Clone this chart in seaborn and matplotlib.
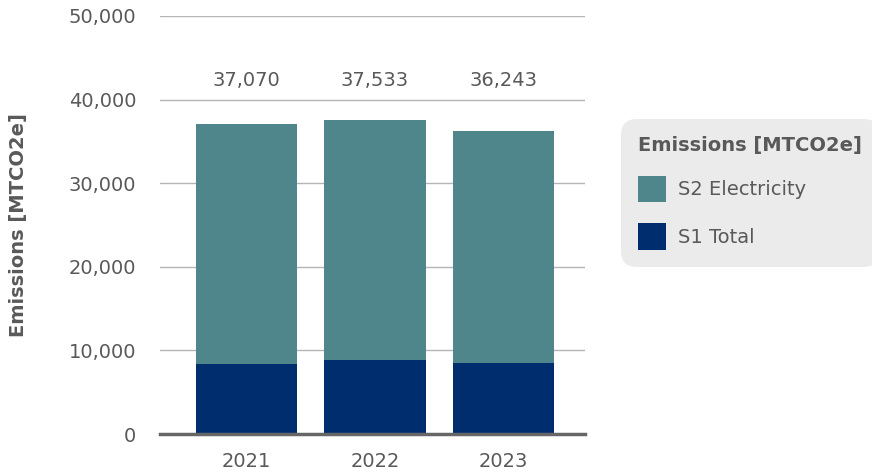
import matplotlib
matplotlib.use("Agg")
import matplotlib.pyplot as plt
import seaborn as sns
import pandas as pd
from matplotlib.patches import Patch

years = ["2021", "2022", "2023"]
s1_total = [8350, 8830, 8470]
s2_electricity = [28720, 28703, 27773]
y_ticks = [0, 10000, 20000, 30000, 40000, 50000]

totals = [a + b for a, b in zip(s1_total, s2_electricity)]
df = pd.DataFrame({"year": years, "s1": s1_total, "total": totals})

sns.set_theme(style="white")
plt.rcParams["font.family"] = ["DejaVu Sans"]

TXT = "#595959"
C_S2 = "#4f868c"
C_S1 = "#002d6e"
FS = 14

fig = plt.figure(figsize=(8.72, 4.74), dpi=100)
ax = fig.add_axes([160 / 872, 40 / 474, 425 / 872, 418 / 474])

sns.barplot(data=df, x="year", y="total", color=C_S2, width=0.79,
            saturation=1, ax=ax, zorder=3, linewidth=0)
sns.barplot(data=df, x="year", y="s1", color=C_S1, width=0.79,
            saturation=1, ax=ax, zorder=3, linewidth=0)

ax.set_ylim(0, 50000)
ax.set_xlim(-0.673, 2.634)
ax.set_yticks(y_ticks)
ax.set_yticklabels([f"{v:,}" for v in y_ticks])
ax.yaxis.grid(True, color="#b5b5b5", linewidth=1, zorder=0)
ax.set_axisbelow(True)
for s in ["top", "right", "left"]:
    ax.spines[s].set_visible(False)
ax.spines["bottom"].set_color("#666666")
ax.spines["bottom"].set_linewidth(2.5)
ax.spines["bottom"].set_zorder(5)
ax.tick_params(axis="y", length=0, pad=17, labelsize=FS, labelcolor=TXT)
ax.tick_params(axis="x", length=0, pad=13, labelsize=FS, labelcolor=TXT)
ax.set_xlabel("")
ax.set_ylabel("Emissions [MTCO2e]", fontsize=14, fontweight="bold",
              color=TXT)
ax.yaxis.set_label_coords(-0.31, 0.5)

label_y = max(totals) * 1.128
for i, t in enumerate(totals):
    ax.text(i, label_y, f"{t:,}", ha="center", va="center",
            fontsize=FS, color=TXT)

handles = [Patch(facecolor=C_S2, edgecolor="none", label="S2 Electricity"),
           Patch(facecolor=C_S1, edgecolor="none", label="S1 Total")]
leg = fig.legend(handles=handles, title="Emissions [MTCO2e]",
                 loc="upper left",
                 bbox_to_anchor=(621 / 872, 1 - 119 / 474),
                 frameon=True, fancybox=True, fontsize=FS,
                 title_fontproperties={"size": 14, "weight": "bold"},
                 handlelength=1.44, handleheight=1.75, handletextpad=0.62,
                 labelspacing=1.05, borderpad=0.88, borderaxespad=0)
leg._legend_box.align = "left"
frame = leg.get_frame()
frame.set_facecolor("#ebebeb")
frame.set_edgecolor("none")
frame.set_alpha(1)
frame.set_boxstyle("round,pad=0,rounding_size=0.8")
leg.get_title().set_color(TXT)
for t in leg.get_texts():
    t.set_color(TXT)

fig.savefig("out.png", dpi=100, facecolor="white")
